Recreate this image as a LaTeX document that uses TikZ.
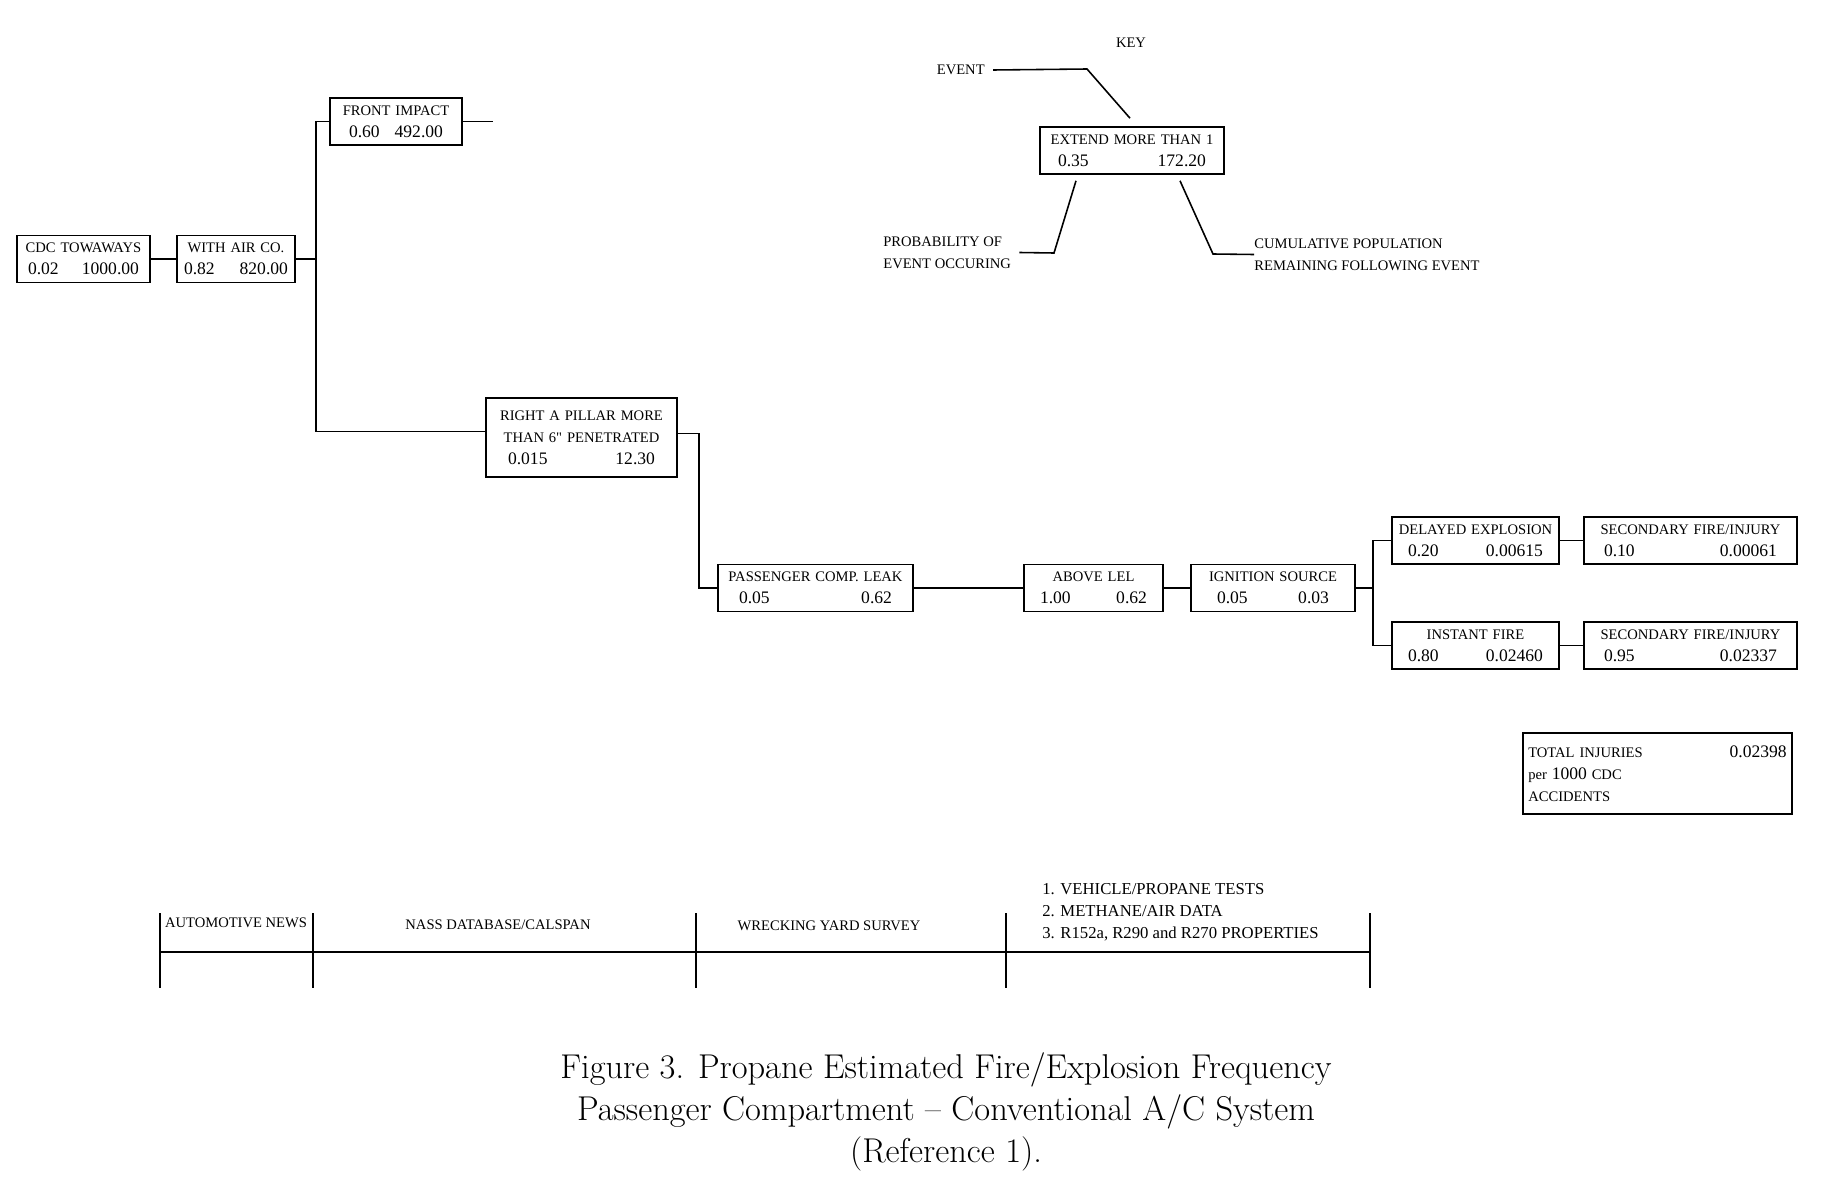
\documentclass[tikz,border=0pt]{standalone}
\usepackage{fontspec}
\newfontfamily\scanfont{Liberation Serif}
\usetikzlibrary{positioning,calc}
\newcommand{\numsz}{\fontsize{10}{12.5}\selectfont}
\tikzset{
  evt/.style={rectangle, draw, line width=0.9pt, inner xsep=0pt, inner ysep=2pt,
              minimum height=0.94cm, align=center,
              font=\scanfont\fontsize{8.3}{12.5}\selectfont},
  wire/.style={draw, line width=0.9pt},
  lbl/.style={font=\scanfont\fontsize{8.3}{12.5}\selectfont, inner sep=0pt},
  captxt/.style={font=\fontsize{19.6}{23.8}\selectfont, align=center, inner sep=0pt},
}
\newcommand{\Event}[8][]{% [opts]{name}{at}{width}{title}{prob}{pop}{pad}
  \node[evt, text width=#4, #1] (#2) at (#3)
    {#5\\\makebox[#4]{\hspace{#8}\numsz#6\hfill#7\hspace{#8}}};}

\begin{document}
\begin{tikzpicture}[x=0.02cm, y=-0.02cm]
  \useasboundingbox (0,0) rectangle (1836,1193);
  % event tree
  \Event{cdc}{83.5,259}{2.66cm}{CDC TOWAWAYS}{0.02}{1000.00}{0.22cm}
  \Event{air}{236,259}{2.36cm}{WITH AIR CO.}{0.82}{820.00}{0.14cm}
  \Event{front}{396,121.5}{2.64cm}{FRONT IMPACT}{0.60}{492.00}{0.38cm}
  \Event[minimum height=1.58cm]{pillar}{581.5,437.5}{3.82cm}{%
    RIGHT A PILLAR MORE\\THAN 6" PENETRATED}{0.015}{12.30}{0.44cm}
  \Event{leak}{815.5,588}{3.90cm}{PASSENGER COMP. LEAK}{0.05}{0.62}{0.42cm}
  \Event{lel}{1093.5,588}{2.78cm}{ABOVE LEL}{1.00}{0.62}{0.32cm}
  \Event{ign}{1273,588}{3.28cm}{IGNITION SOURCE}{0.05}{0.03}{0.52cm}
  \Event{delay}{1475.5,540.5}{3.34cm}{DELAYED EXPLOSION}{0.20}{0.00615}{0.32cm}
  \Event{secd}{1690.5,540.5}{4.26cm}{SECONDARY FIRE/INJURY}{0.10}{0.00061}{0.40cm}
  \Event{inst}{1475.5,645.5}{3.34cm}{INSTANT FIRE}{0.80}{0.02460}{0.32cm}
  \Event{seci}{1690.5,645.5}{4.26cm}{SECONDARY FIRE/INJURY}{0.95}{0.02337}{0.40cm}
  \node[evt, align=left, inner xsep=3pt, text width=5.17cm, minimum height=1.62cm]
    (total) at (1657.5,773.5)
    {TOTAL INJURIES\hfill {\numsz 0.02398}\hspace*{0.42cm}\\
     per {\numsz 1000} CDC\\ACCIDENTS};

  \draw[wire] (cdc.east) -- (air.west);
  \coordinate (trunk) at ($(air.east)+(20,0)$);
  \draw[wire] (air.east) -- (trunk);
  \draw[wire] (front.west) -| (trunk) |- ($(pillar.west)+(0,-6)$);
  \coordinate (fstub) at ($(front.east)+(30,0)$);
  \draw[wire] (front.east) -- (fstub);
  \draw[wire] ($(pillar.east)+(0,-4)$) -- ++(21,0) |- (leak.west);
  \draw[wire] (leak.east) -- (lel.west);
  \draw[wire] (lel.east) -- (ign.west);
  \coordinate (split) at ($(ign.east)+(17,0)$);
  \draw[wire] (ign.east) -- (split);
  \draw[wire] (delay.west) -| (split) |- (inst.west);
  \draw[wire] (delay.east) -- (secd.west);
  \draw[wire] (inst.east) -- (seci.west);

  % key
  \Event{keybox}{1132,150.5}{3.68cm}{EXTEND MORE THAN 1}{0.35}{172.20}{0.36cm}
  \node[lbl] (keyttl) at (1131,43) {KEY};
  \node[lbl, anchor=east] (evlbl) at (985,70) {EVENT};
  \node[lbl, anchor=west, align=left] (prob) at (883,252.5)
    {PROBABILITY OF\\EVENT OCCURING};
  \node[lbl, anchor=west, align=left] (cumpop) at (1254,254.5)
    {CUMULATIVE POPULATION\\REMAINING FOLLOWING EVENT};
  \draw[wire] ($(evlbl.east)+(8,0)$) -- (1087,69) -- ($(keybox.north)+(-2,-8)$);
  \draw[wire] ($(keybox.south)+(-56,6)$) -- (1054,253) -- ($(prob.east)+(8,0)$);
  \draw[wire] ($(keybox.south)+(48,6)$) -- (1213,254) -- (cumpop.west);

  % data sources
  \draw[wire] (160,952) -- (1370,952);
  \foreach \x in {160,313,696,1006,1370}
    \draw[wire] (\x,913) -- (\x,988);
  \node[lbl] (autonews) at (236,923) {AUTOMOTIVE NEWS};
  \node[lbl] (nass) at (498,925) {NASS DATABASE/CALSPAN};
  \node[lbl] (wreck) at (829,926) {WRECKING YARD SURVEY};
  \node[lbl, anchor=west, align=left, font=\scanfont\fontsize{9.5}{12.5}\selectfont]
    (tests) at (1042,912)
    {1. VEHICLE/PROPANE TESTS\\2. METHANE/AIR DATA\\3. R152a, R290 and R270 PROPERTIES};

  \node[captxt] (caption) at (946,1112)
    {Figure 3. Propane Estimated Fire/Explosion Frequency\\
     Passenger Compartment -- Conventional A/C System\\(Reference 1).};
\end{tikzpicture}
\end{document}
